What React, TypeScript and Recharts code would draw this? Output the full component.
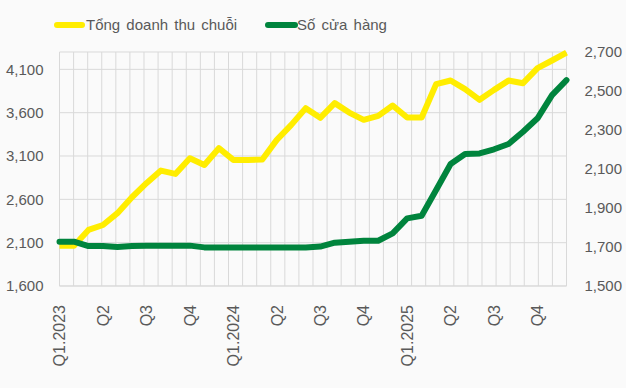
import { CartesianGrid, Line, LineChart, XAxis, YAxis } from 'recharts';

const months = [
  '01.2023', '02.2023', '03.2023', '04.2023', '05.2023', '06.2023',
  '07.2023', '08.2023', '09.2023', '10.2023', '11.2023', '12.2023',
  '01.2024', '02.2024', '03.2024', '04.2024', '05.2024', '06.2024',
  '07.2024', '08.2024', '09.2024', '10.2024', '11.2024', '12.2024',
  '01.2025', '02.2025', '03.2025', '04.2025', '05.2025', '06.2025',
  '07.2025', '08.2025', '09.2025', '10.2025', '11.2025', '12.2025',
];

const revenue = [
  2065, 2065, 2247, 2304, 2440, 2624, 2786, 2932, 2893, 3074, 2997, 3190,
  3055, 3055, 3060, 3286, 3459, 3652, 3540, 3710, 3601, 3517, 3563, 3682,
  3544, 3544, 3929, 3971, 3871, 3748, 3863, 3971, 3940, 4114, 4202, 4294,
];

const stores = [
  1727, 1727, 1705, 1705, 1700, 1705, 1706, 1707, 1707, 1707, 1698, 1697,
  1697, 1697, 1697, 1697, 1697, 1698, 1702, 1722, 1727, 1732, 1732, 1770,
  1847, 1860, 1992, 2126, 2177, 2180, 2201, 2228, 2291, 2360, 2479, 2556,
];

const quarterLabels: Record<string, string> = {
  '01.2023': 'Q1.2023', '04.2023': 'Q2', '07.2023': 'Q3', '10.2023': 'Q4',
  '01.2024': 'Q1.2024', '04.2024': 'Q2', '07.2024': 'Q3', '10.2024': 'Q4',
  '01.2025': 'Q1.2025', '04.2025': 'Q2', '07.2025': 'Q3', '10.2025': 'Q4',
};

const leftTicks = [1600, 2100, 2600, 3100, 3600, 4100];
const rightTicks = [1500, 1700, 1900, 2100, 2300, 2500, 2700];

const revenueName = 'Tổng doanh thu chuỗi';
const storesName = 'Số cửa hàng';

const YELLOW = '#FFED00';
const GREEN = '#00843D';
const TEXT = '#595959';
const GRID = '#D9D9D9';
const FONT = '"Liberation Sans", Arial, sans-serif';

const data = months.map((m, i) => ({ month: m, revenue: revenue[i], stores: stores[i] }));

const fmt = (v: number) => v.toLocaleString('en-US');

function QuarterTick({ x, y, payload }: any) {
  const label = quarterLabels[payload.value] ?? '';
  const ty = y + 11;
  return (
    <text
      x={x}
      y={ty}
      dy="0.36em"
      transform={`rotate(-90, ${x}, ${ty})`}
      textAnchor="end"
      fill={TEXT}
      fontSize={16}
      fontFamily={FONT}
    >
      {label}
    </text>
  );
}

export default function App() {
  return (
    <div style={{ position: 'fixed', left: 0, top: 0, width: 626, height: 388, background: '#FAFAFA' }}>
      <svg width={626} height={40} style={{ position: 'absolute', left: 0, top: 0 }}>
        <line x1={57} y1={25} x2={82} y2={25} stroke={YELLOW} strokeWidth={6} strokeLinecap="round" />
        <text x={86} y={30} fill={TEXT} fontSize={15} fontFamily={FONT} wordSpacing={2}>
          {revenueName}
        </text>
        <line x1={268} y1={25} x2={295} y2={25} stroke={GREEN} strokeWidth={6} strokeLinecap="round" />
        <text x={297} y={30} fill={TEXT} fontSize={15} fontFamily={FONT} wordSpacing={2}>
          {storesName}
        </text>
      </svg>
      <LineChart
        width={626}
        height={388}
        data={data}
        margin={{ top: 52, right: 0, bottom: 0, left: 0 }}
        style={{ position: 'absolute', left: 0, top: 0 }}
      >
        <CartesianGrid
          stroke={GRID}
          strokeWidth={1}
          yAxisId="left"
          verticalCoordinatesGenerator={({ offset }: any) =>
            months.map((_, i) => offset.left + (i * offset.width) / months.length).concat(offset.left + offset.width)
          }
        />
        <XAxis
          dataKey="month"
          interval={0}
          height={102}
          axisLine={{ stroke: GRID }}
          tickLine={false}
          tick={<QuarterTick />}
        />
        <YAxis
          yAxisId="left"
          width={59.5}
          domain={[1600, 4300]}
          ticks={leftTicks}
          tickFormatter={fmt}
          axisLine={false}
          tickLine={false}
          tickSize={0}
          tickMargin={16}
          tick={{ fill: TEXT, fontSize: 15, fontFamily: FONT }}
        />
        <YAxis
          yAxisId="right"
          orientation="right"
          width={59.5}
          domain={[1500, 2700]}
          ticks={rightTicks}
          tickFormatter={fmt}
          axisLine={false}
          tickLine={false}
          tickSize={0}
          tickMargin={18}
          tick={{ fill: TEXT, fontSize: 15, fontFamily: FONT, textAnchor: 'start' }}
        />
        <Line
          yAxisId="left"
          type="linear"
          dataKey="revenue"
          name={revenueName}
          stroke={YELLOW}
          strokeWidth={6}
          strokeLinejoin="round"
          dot={false}
          isAnimationActive={false}
        />
        <Line
          yAxisId="right"
          type="linear"
          dataKey="stores"
          name={storesName}
          stroke={GREEN}
          strokeWidth={6}
          strokeLinejoin="round"
          strokeLinecap="round"
          dot={false}
          isAnimationActive={false}
        />
      </LineChart>
    </div>
  );
}
